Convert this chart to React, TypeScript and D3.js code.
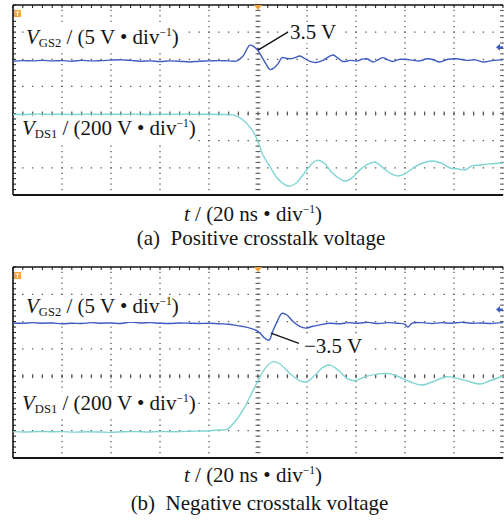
import React from "react";
import * as d3 from "d3";

// time in ns (20 ns/div), VGS2 in V (5 V/div), VDS1 in V (200 V/div)
const timeTicks = [0, 20, 40, 60, 80, 100, 120, 140, 160, 180, 200];
const divTicks = [4, 3, 2, 1, 0, -1, -2, -3];

const vgs2Positive: [number, number][] = [
  [0, -0.35], [4, -0.25], [8, -0.3], [12, -0.2], [16, -0.3], [20, -0.25], [24, -0.35], [28, -0.2],
  [32, -0.3], [36, -0.25], [40, -0.15], [44, -0.1], [48, -0.2], [52, -0.35], [56, -0.3], [60, -0.4],
  [64, -0.3], [68, -0.35], [72, -0.5], [76, -0.35], [80, -0.3], [84, -0.25], [88, -0.3],
  [91.4, -0.3], [93.9, 0.6], [96.7, 2.6], [98.4, 2.3], [100, 1.6], [101.6, 0.4], [103.3, -0.9],
  [104.9, -1.9], [106.5, -1.6], [108.2, -0.8], [109.8, 0.3], [111.4, 0.2], [113, 0.1], [115.1, 0.3],
  [117.1, 0.6], [119.2, 0.1], [121.2, -0.4], [123.7, -0.6], [126.5, -0.2], [128.6, 0.4], [130.6, 0.8],
  [132.7, 0.2], [134.7, -0.4], [137.6, -0.2], [140.4, -0.3], [142.4, 0], [144.5, 0.1], [147, -0.5],
  [149, -0.1], [151, 0.3], [153, -0.1], [155, -0.4], [158, 0], [162, -0.1], [166, -0.3], [169, 0.1],
  [171, 0], [174, -0.5], [177.5, 0], [181, 0.1], [185, -0.2], [188.5, -0.1], [192, -0.5], [196, -0.2],
  [200, -0.1],
];

const vds1Positive: [number, number][] = [
  [0, 395], [5, 393], [10, 396], [15, 394], [20, 395], [25, 393], [30, 396], [35, 394], [40, 395],
  [45, 394], [50, 396], [55, 393], [60, 395], [65, 394], [70, 396], [75, 394], [80, 395], [85, 393],
  [89.8, 390], [93.9, 353], [98, 267], [100, 193], [102, 95], [104.9, 9], [107.8, -74], [112.2, -133],
  [115.1, -119], [118, -60], [121.2, 14], [124, 55], [127, 36], [130, -30], [133.5, -82], [135.5, -97],
  [138.4, -74], [141.6, -15], [145, 29], [147.8, 43], [150.6, 7], [153.9, -38], [157, -60],
  [160.4, -38], [164, 7], [167.3, 36], [171, 51], [174.7, 36], [178.4, -1], [181.6, -8], [184.5, -15],
  [187.3, 14], [190.6, 21], [194.7, 29], [200, 36],
];

const vgs2Negative: [number, number][] = [
  [0, -0.25], [4, -0.3], [8, -0.2], [12, -0.3], [16, -0.25], [20, -0.4], [24, -0.3], [28, -0.35],
  [32, -0.2], [36, -0.3], [40, -0.25], [44, -0.35], [48, -0.1], [52, -0.25], [56, -0.2], [60, -0.3],
  [64, -0.35], [68, -0.25], [72, -0.3], [76, -0.35], [80, -0.3], [84, -0.4], [88, -0.5], [89.8, -0.6],
  [93.9, -0.9], [96.7, -1.2], [100, -1.8], [102.9, -3.1], [104.5, -3.4], [106, -1.8], [107.8, 0],
  [109.8, 1.5], [111.8, 1.2], [114.3, 0], [117, -0.9], [119.6, -1.2], [122, -0.9], [125.3, -0.6],
  [129.4, -0.3], [133, -0.4], [137, -0.2], [141, -0.3], [145, -0.15], [149, -0.35], [153, -0.2],
  [157, -0.3], [160, -0.5], [161.2, -1.0], [163, -0.3], [167, -0.2], [171, -0.35], [175, -0.2],
  [179, -0.3], [183, -0.15], [187, -0.3], [191, -0.25], [195, -0.35], [200, -0.2],
];

const vds1Negative: [number, number][] = [
  [0, -7], [5, -9], [10, -6], [15, -8], [20, -7], [25, -10], [30, -8], [35, -9], [40, -12], [45, -8],
  [50, -7], [55, -9], [60, -6], [65, -8], [70, -5], [75, -3], [80.4, 0], [84, 5], [87.3, 10],
  [90.6, 66], [93.9, 152], [96.7, 249], [100, 366], [102.9, 457], [106.1, 506], [109, 489], [113, 420],
  [117.1, 366], [120, 359], [123.3, 408], [126.5, 464], [129.4, 481], [132.7, 445], [136.3, 384],
  [139.6, 366], [143.7, 396], [148.6, 415], [152.7, 420], [156.7, 401], [162, 359], [167, 335],
  [171.4, 359], [177.1, 396], [181.2, 384], [186.5, 359], [190.6, 342], [194.7, 366], [200, 401],
];

const gsLabel = { base: "V", sub: "GS2", rest: " / (5 V • div", sup: "−1" };
const dsLabel = { base: "V", sub: "DS1", rest: " / (200 V • div", sup: "−1" };
const timeLabel = { base: "t", rest: " / (20 ns • div", sup: "−1" };
const captions = ["(a)  Positive crosstalk voltage", "(b)  Negative crosstalk voltage"];
const peakLabels = ["3.5 V", "−3.5 V"];

const W = 504;
const H = 521;
const L = 13;
const R = 503;
const FONT = "'Liberation Serif', 'Times New Roman', serif";
const BLUE = "#3f5cc2";
const CYAN = "#7fd5d3";
const GRID = "#5a5a5a";
const INK = "#151515";
const FS = 21;

const x = d3.scaleLinear().domain([0, 200]).range([L, R]);

function Label({ lx, ly, label, fs = FS, anchor = "start" }: any) {
  return (
    <text x={lx} y={ly} fontFamily={FONT} fontSize={fs} fill={INK} textAnchor={anchor} xmlSpace="preserve">
      <tspan fontStyle="italic">{label.base}</tspan>
      {label.sub ? (
        <tspan fontSize={fs * 0.6} dy={3}>{label.sub}</tspan>
      ) : null}
      <tspan dy={label.sub ? -3 : 0}>{label.rest}</tspan>
      <tspan fontSize={fs * 0.55} dy={-8}>{label.sup}</tspan>
      <tspan dy={8}>)</tspan>
    </text>
  );
}

function Panel({ T, B, gs, ds, gsLab, dsLab, peak, peakLine, peakText }: any) {
  const yDiv = d3.scaleLinear().domain([4, -3]).range([T, B]);
  const yGS = d3.scaleLinear().domain([10, -25]).range([T, B]);
  const yDS = d3.scaleLinear().domain([1200, -200]).range([T, B]);
  const dx = x(20) - x(0);
  const dy = yDiv(3) - yDiv(4);
  const lineGS = d3
    .line<[number, number]>()
    .x((d) => x(d[0]))
    .y((d) => yGS(d[1]))
    .curve(d3.curveCatmullRom.alpha(0.5));
  const lineDS = d3
    .line<[number, number]>()
    .x((d) => x(d[0]))
    .y((d) => yDS(d[1]))
    .curve(d3.curveCatmullRom.alpha(0.5));

  const minorX = d3.range(0, 200.001, 4);
  const minorY = d3.range(4, -3.001, -0.2);
  const cx = x(100);
  const cy = yDiv(0);
  const els: any[] = [];

  timeTicks.slice(1).forEach((t, i) => {
    els.push(
      <line key={"vg" + i} x1={x(t)} x2={x(t)} y1={T} y2={B} stroke={GRID} strokeWidth={1.3}
        strokeDasharray={`1.3 ${dy / 5 - 1.3}`} strokeDashoffset={0.65} />
    );
  });
  divTicks.slice(1, -1).forEach((d, i) => {
    els.push(
      <line key={"hg" + i} x1={L} x2={R} y1={yDiv(d)} y2={yDiv(d)} stroke={GRID} strokeWidth={1.3}
        strokeDasharray={`1.4 ${dx / 5 - 1.4}`} strokeDashoffset={0.7} />
    );
  });
  minorY.forEach((d, i) => {
    els.push(<line key={"cyt" + i} x1={cx - 2.5} x2={cx + 2.5} y1={yDiv(d)} y2={yDiv(d)} stroke={GRID} strokeWidth={1} />);
  });
  minorX.forEach((t, i) => {
    els.push(<line key={"cxt" + i} x1={x(t)} x2={x(t)} y1={cy - 2} y2={cy + 2} stroke={GRID} strokeWidth={1.2} />);
    els.push(<line key={"tt" + i} x1={x(t)} x2={x(t)} y1={T} y2={T + 3} stroke={INK} strokeWidth={1} />);
  });
  minorY.forEach((d, i) => {
    els.push(<line key={"lt" + i} x1={L} x2={L + 3} y1={yDiv(d)} y2={yDiv(d)} stroke={INK} strokeWidth={1} />);
    els.push(<line key={"rt" + i} x1={R - 3} x2={R} y1={yDiv(d)} y2={yDiv(d)} stroke={GRID} strokeWidth={1} />);
  });

  return (
    <g>
      {els}
      <line x1={L} x2={R} y1={T} y2={T} stroke={INK} strokeWidth={1.6} />
      <line x1={L} x2={R} y1={B} y2={B} stroke={INK} strokeWidth={1.8} />
      <line x1={L} x2={L} y1={T} y2={B} stroke={INK} strokeWidth={1.6} />
      <path d={lineDS(ds) || ""} fill="none" stroke={CYAN} strokeWidth={1.4} />
      <path d={lineGS(gs) || ""} fill="none" stroke={BLUE} strokeWidth={1.4} />
      <path d={`M${cx - 4},${T} L${cx + 4},${T} L${cx},${T + 5} Z`} fill="#f2a03a" />
      <rect x={L + 1} y={T + 5} width={7} height={7} fill="#f3a24a" />
      <path d={`M${L + 2.5},${T + 7} H${L + 6.5} M${L + 4.5},${T + 7} V${T + 11}`} stroke="#fff" strokeWidth={1} />
      <path d={`M${R - 7},${yGS(2.2)} L${R - 3},${yGS(2.2) - 3.5} L${R - 3},${yGS(2.2) + 3.5} Z`} fill={BLUE} />
      <line x1={R - 4} x2={R} y1={yGS(2.2)} y2={yGS(2.2)} stroke={BLUE} strokeWidth={2} />
      <rect x={gsLab[0] - 2} y={gsLab[1] - 18} width={158} height={27} fill="#fff" />
      <Label lx={gsLab[0]} ly={gsLab[1]} label={gsLabel} />
      <rect x={dsLab[0] - 2} y={dsLab[1] - 18} width={178} height={27} fill="#fff" />
      <Label lx={dsLab[0]} ly={dsLab[1]} label={dsLabel} />
      <line x1={x(peakLine[0])} y1={yGS(peakLine[1])} x2={x(peakLine[2])} y2={yGS(peakLine[3])} stroke={INK} strokeWidth={1.4} />
      <rect x={peakText[0] - 1} y={peakText[1] - 16} width={peak.length * 10 + 6} height={20} fill="#fff" />
      <text x={peakText[0]} y={peakText[1]} fontFamily={FONT} fontSize={FS} fill={INK}>{peak}</text>
    </g>
  );
}

export default function App() {
  return (
    <svg width={W} height={H} style={{ position: "absolute", left: 0, top: 0, background: "#fff" }}>
      <rect width={W} height={H} fill="#fff" />
      <Panel T={5} B={195} gs={vgs2Positive} ds={vds1Positive} gsLab={[26, 44]} dsLab={[22, 135]}
        peak={peakLabels[0]} peakLine={[100, 1.7, 112.2, 5]} peakText={[290, 39]} />
      <Panel T={267} B={458} gs={vgs2Negative} ds={vds1Negative} gsLab={[26, 313]} dsLab={[22, 410]}
        peak={peakLabels[1]} peakLine={[105.3, -2.1, 116.7, -4]} peakText={[304, 353]} />
      <Label lx={253} ly={221} label={timeLabel} anchor="middle" />
      <text x={261} y={245} textAnchor="middle" fontFamily={FONT} fontSize={FS} fill={INK} xmlSpace="preserve">{captions[0]}</text>
      <Label lx={253} ly={482} label={timeLabel} anchor="middle" />
      <text x={259.5} y={510} textAnchor="middle" fontFamily={FONT} fontSize={FS} fill={INK} xmlSpace="preserve">{captions[1]}</text>
    </svg>
  );
}
